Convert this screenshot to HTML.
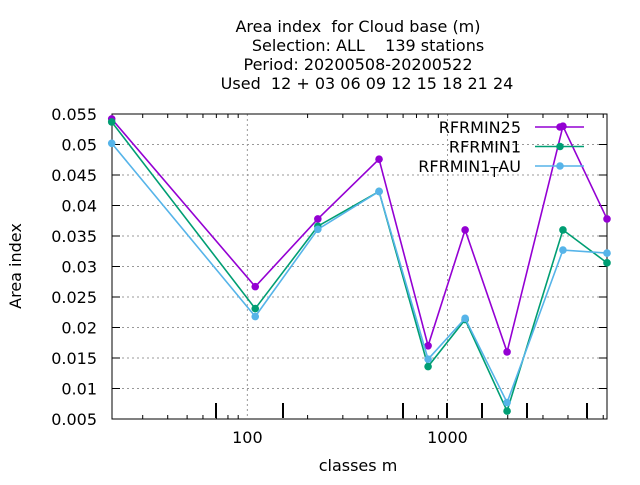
<!DOCTYPE html>
<html><head><meta charset="utf-8"><style>
body{margin:0;background:#fff}
svg text{font-family:"DejaVu Sans","Liberation Sans",sans-serif;font-size:16px;fill:#000;white-space:pre}
</style></head><body>
<svg id="chart" width="640" height="480" xmlns="http://www.w3.org/2000/svg">
<g>
<text x="358" y="32" text-anchor="middle" xml:space="preserve">Area index  for Cloud base (m)</text>
<text x="368" y="51" text-anchor="middle" xml:space="preserve">Selection: ALL    139 stations</text>
<text x="358" y="70" text-anchor="middle">Period: 20200508-20200522</text>
<text x="367" y="89" text-anchor="middle" xml:space="preserve">Used  12 + 03 06 09 12 15 18 21 24</text>
</g>
<text transform="translate(21,266) rotate(-90)" text-anchor="middle">Area index</text>
<text x="358" y="471" text-anchor="middle">classes m</text>
<g id="grid"></g>
<g id="axes"></g>
<g id="series"></g>
<g id="legend"></g>
</svg>
<script>
const xValues=[21,109.5,225,455,800,1225,1985,3775,6267];
const rfrmin25=[0.0542,0.0267,0.0378,0.0476,0.0170,0.0360,0.0160,0.0530,0.0378];
const rfrmin1=[0.0537,0.0231,0.0366,0.0423,0.0136,0.0213,0.0063,0.0360,0.0306];
const rfrmin1tau=[0.0502,0.0218,0.0361,0.0423,0.0148,0.0215,0.0077,0.0327,0.0322];
const yTicks=[0.005,0.01,0.015,0.02,0.025,0.03,0.035,0.04,0.045,0.05,0.055];
const yTickLabels=["0.005","0.01","0.015","0.02","0.025","0.03","0.035","0.04","0.045","0.05","0.055"];
const xTicks=[100,1000];
const xTickLabels=["100","1000"];
const seriesNames=["RFRMIN25","RFRMIN1","RFRMIN1_TAU"];
const seriesColors=["#9400d3","#009e73","#56b4e9"];

const L=112,R=607,T=114,B=419;
const X0=Math.log10(21.07),X1=Math.log10(6267);
const xs=v=>L+(Math.log10(v)-X0)/(X1-X0)*(R-L);
const ys=v=>B-(v-0.005)/(0.055-0.005)*(B-T);
const NS="http://www.w3.org/2000/svg";
function mk(tag,attrs,parent){const e=document.createElementNS(NS,tag);for(const k in attrs)e.setAttribute(k,attrs[k]);parent.appendChild(e);return e;}
const grid=document.getElementById('grid'),axes=document.getElementById('axes'),ser=document.getElementById('series'),leg=document.getElementById('legend');

yTicks.forEach((t,i)=>{const y=ys(t);
 if(i>0&&i<yTicks.length-1){const g=mk('line',{x1:L,x2:R,y1:y,y2:y,stroke:'#999','stroke-dasharray':'2,3','stroke-width':1},grid);
 }
 const a=mk('line',{x1:L,x2:L+8,y1:y,y2:y,stroke:'#000'},axes);
 const b=mk('line',{x1:R,x2:R-8,y1:y,y2:y,stroke:'#000'},axes);
 const tx=mk('text',{x:97,y:y+6,'text-anchor':'end'},axes);tx.textContent=yTickLabels[i];
 });
xTicks.forEach((t,i)=>{const x=xs(t);
 const g=mk('line',{x1:x,x2:x,y1:T,y2:B,stroke:'#999','stroke-dasharray':'2,3'},grid);
 const tx=mk('text',{x:x,y:443,'text-anchor':'middle'},axes);tx.textContent=xTickLabels[i];
 });
[30,40,50,60,70,80,90,200,300,400,500,600,700,800,900,2000,3000,4000,5000,6000].forEach(v=>{const x=xs(v);
 const a=mk('line',{x1:x,x2:x,y1:B,y2:B-4,stroke:'#000'},axes);
 const b=mk('line',{x1:x,x2:x,y1:T,y2:T+4,stroke:'#000'},axes);});
[216,283,403,447,482,527,587].forEach(x=>{const a=mk('line',{x1:x,x2:x,y1:B-1,y2:B-16,stroke:'#000','stroke-width':2},axes);
 });
const fr=mk('rect',{x:L,y:T,width:R-L,height:B-T,fill:'none',stroke:'#000'},axes);


[rfrmin25,rfrmin1,rfrmin1tau].forEach((vals,si)=>{const c=seriesColors[si];
 const pl=mk('polyline',{points:vals.map((v,i)=>xs(xValues[i])+','+ys(v)).join(' '),fill:'none',stroke:c,'stroke-width':1.6},ser);
 
 vals.forEach((v,i)=>{const m=mk('circle',{cx:xs(xValues[i]),cy:ys(v),r:3.8,fill:c},ser);
  });
 const ly=127+si*19.5;
 const ln=mk('line',{x1:535,x2:584,y1:ly,y2:ly,stroke:c,'stroke-width':1.6},leg);
 const lm=mk('circle',{cx:560,cy:ly,r:3.8,fill:c},leg);
 const t=mk('text',{x:521,y:ly+6,'text-anchor':'end'},leg);
 
 if(si===2){t.innerHTML='RFRMIN1<tspan dy="5" font-size="13">T</tspan><tspan dy="-5">AU</tspan>';}else t.textContent=seriesNames[si];
});
</script>
</body></html>
